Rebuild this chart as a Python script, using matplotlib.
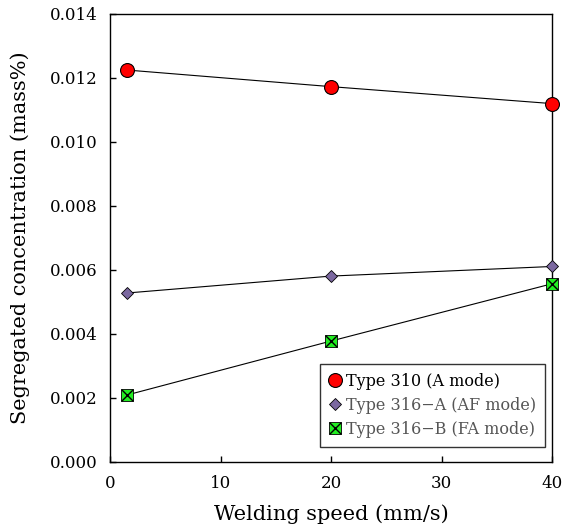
import matplotlib
matplotlib.use("Agg")
import matplotlib.pyplot as plt

speed = [1.5, 20, 40]
type310 = [0.01225, 0.01173, 0.01120]
type316A = [0.00528, 0.00581, 0.00611]
type316B = [0.00209, 0.00378, 0.00557]
labels = ["Type 310 (A mode)", "Type 316\u2212A (AF mode)", "Type 316\u2212B (FA mode)"]

plt.rcParams['font.family'] = ['DejaVu Serif']

fig = plt.figure(figsize=(5.66, 5.28), dpi=100)
ax = fig.add_axes([110/566, 1-462/528, 442/566, 448/528])

l1, = ax.plot(speed, type310, color='black', lw=0.8, marker='o', ms=10,
              mfc='red', mec='black', mew=0.8, clip_on=False, zorder=3)
l2, = ax.plot(speed, type316A, color='black', lw=0.8, marker='D', ms=6,
              mfc='#7b68a0', mec='black', mew=0.6, clip_on=False, zorder=3)
l3, = ax.plot(speed, type316B, color='black', lw=0.8, marker='s', ms=9,
              mfc='#22ee22', mec='black', mew=0.6, clip_on=False, zorder=3)
ax.plot(speed, type316B, ls='none', marker='x', ms=8, mec='black', mew=1.0,
        clip_on=False, zorder=4)

ax.set_xlim(0, 40)
ax.set_ylim(0, 0.014)
ax.set_xticks([0, 10, 20, 30, 40])
ax.set_yticks([0.000, 0.002, 0.004, 0.006, 0.008, 0.010, 0.012, 0.014])
ax.set_yticklabels([f"{v:.3f}" for v in ax.get_yticks()])
ax.tick_params(direction='in', length=4, width=1, labelsize=12, top=False, right=False, pad=9)
for s in ax.spines.values():
    s.set_linewidth(1.0)

ax.set_xlabel("Welding speed (mm/s)", fontsize=15, labelpad=9)
ax.set_ylabel("Segregated concentration (mass%)", fontsize=15, labelpad=14)

from matplotlib.lines import Line2D
h3 = (l3, Line2D([], [], ls='none', marker='x', ms=8, mec='black', mew=1.0))
leg = ax.legend([l1, l2, h3], labels, loc='lower right', bbox_to_anchor=(0.984, 0.034),
                borderaxespad=0,
                fontsize=11.5, frameon=True, fancybox=False, edgecolor='black',
                handlelength=0.8, handletextpad=0.3, borderpad=0.55, labelspacing=0.45)
leg.get_frame().set_linewidth(1.0)
for line in leg.get_lines():
    line.set_linestyle('none')
texts = leg.get_texts()
texts[1].set_color('#555555')
texts[2].set_color('#555555')

fig.savefig("out.png", dpi=100)
